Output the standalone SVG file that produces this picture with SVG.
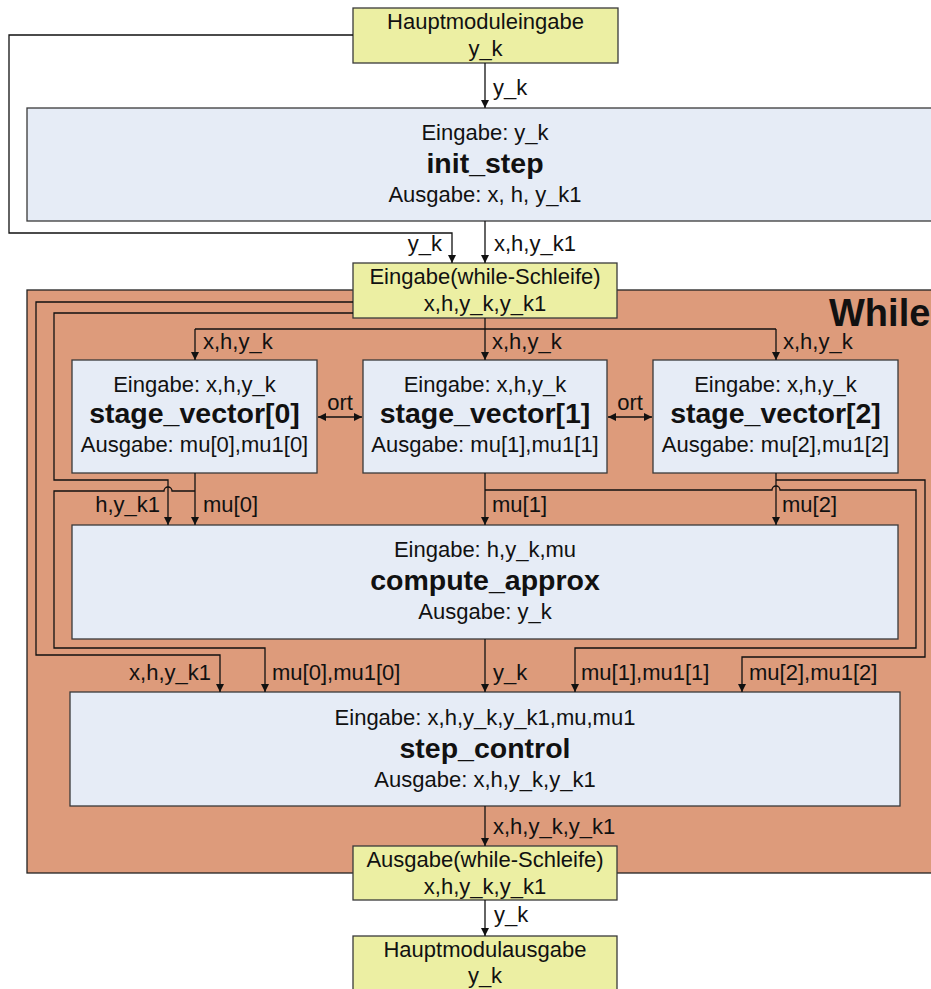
<svg xmlns="http://www.w3.org/2000/svg" width="931" height="989" viewBox="0 0 931 989">
  <style>
    .io { fill: #ECEFA3; stroke: #3A3A3A; stroke-width: 1.3; }
    .blk { fill: #E6ECF6; stroke: #3A3A3A; stroke-width: 1.3; }
    .frame { fill: #DD9B7B; stroke: #222; stroke-width: 1.3; }
    .t { font-family: "Liberation Sans", Arial, sans-serif; font-size: 22px; fill: #111; }
    .c { text-anchor: middle; }
    .e { text-anchor: end; }
    .b { font-weight: bold; font-size: 28.5px; }
    .w { font-weight: bold; font-size: 38px; }
    .ln { fill: none; stroke: #111; stroke-width: 1.3; }
    .lb { font-family: "Liberation Sans", Arial, sans-serif; font-size: 22px; fill: #111; }
  </style>
  <defs>
    <marker id="arr" viewBox="0 0 10 10" refX="10" refY="5" markerWidth="8" markerHeight="9" markerUnits="userSpaceOnUse" orient="auto">
      <path d="M0,0 L10,5 L0,10 z" fill="#111"/>
    </marker>
    <marker id="arrs" viewBox="0 0 10 10" refX="0" refY="5" markerWidth="8" markerHeight="9" markerUnits="userSpaceOnUse" orient="auto">
      <path d="M10,0 L0,5 L10,10 z" fill="#111"/>
    </marker>
  </defs>

  <rect width="931" height="989" fill="#FFFFFF"/>

  <!-- while loop frame -->
  <g id="while">
    <rect class="frame" x="27" y="290" width="920" height="583"/>
    <text class="t w" x="829" y="326">While</text>
  </g>

  <!-- main module input -->
  <g id="haupt_in">
    <rect class="io" x="353" y="8" width="265" height="55"/>
    <text class="t c" x="485.5" y="29">Hauptmoduleingabe</text>
    <text class="t c" x="485.5" y="56">y_k</text>
  </g>

  <g id="init_step">
    <rect class="blk" x="27" y="108" width="916" height="113"/>
    <text class="t c" x="485" y="140">Eingabe: y_k</text>
    <text class="t c b" x="485" y="173">init_step</text>
    <text class="t c" x="485" y="202">Ausgabe: x, h, y_k1</text>
  </g>

  <g id="loop_in">
    <rect class="io" x="353" y="263" width="264" height="55"/>
    <text class="t c" x="485" y="284">Eingabe(while-Schleife)</text>
    <text class="t c" x="485" y="311">x,h,y_k,y_k1</text>
  </g>

  <g id="stage0">
    <rect class="blk" x="72" y="360" width="245" height="113"/>
    <text class="t c" x="194.5" y="392">Eingabe: x,h,y_k</text>
    <text class="t c b" x="194.5" y="423">stage_vector[0]</text>
    <text class="t c" x="194.5" y="452">Ausgabe: mu[0],mu1[0]</text>
  </g>

  <g id="stage1">
    <rect class="blk" x="363" y="360" width="244" height="113"/>
    <text class="t c" x="485" y="392">Eingabe: x,h,y_k</text>
    <text class="t c b" x="485" y="423">stage_vector[1]</text>
    <text class="t c" x="485" y="452">Ausgabe: mu[1],mu1[1]</text>
  </g>

  <g id="stage2">
    <rect class="blk" x="653" y="360" width="245" height="113"/>
    <text class="t c" x="775.5" y="392">Eingabe: x,h,y_k</text>
    <text class="t c b" x="775.5" y="423">stage_vector[2]</text>
    <text class="t c" x="775.5" y="452">Ausgabe: mu[2],mu1[2]</text>
  </g>

  <g id="compute_approx">
    <rect class="blk" x="72" y="525" width="826" height="114"/>
    <text class="t c" x="485" y="557">Eingabe: h,y_k,mu</text>
    <text class="t c b" x="485" y="590">compute_approx</text>
    <text class="t c" x="485" y="619">Ausgabe: y_k</text>
  </g>

  <g id="step_control">
    <rect class="blk" x="70" y="692" width="830" height="114"/>
    <text class="t c" x="485" y="725">Eingabe: x,h,y_k,y_k1,mu,mu1</text>
    <text class="t c b" x="485" y="758">step_control</text>
    <text class="t c" x="485" y="787">Ausgabe: x,h,y_k,y_k1</text>
  </g>

  <g id="loop_out">
    <rect class="io" x="353" y="846" width="264" height="54"/>
    <text class="t c" x="485" y="867">Ausgabe(while-Schleife)</text>
    <text class="t c" x="485" y="894">x,h,y_k,y_k1</text>
  </g>

  <g id="haupt_out">
    <rect class="io" x="353" y="936" width="264" height="60"/>
    <text class="t c" x="485" y="957">Hauptmodulausgabe</text>
    <text class="t c" x="485" y="983">y_k</text>
  </g>

  <!-- connectors -->
  <g id="connectors">
    <path class="ln" d="M485,63 V108" marker-end="url(#arr)"/>
    <path class="ln" d="M353,35 H9 V233 H452 V263" marker-end="url(#arr)"/>
    <path class="ln" d="M485,221 V263" marker-end="url(#arr)"/>

    <path class="ln" d="M485,318 V360" marker-end="url(#arr)"/>
    <path class="ln" d="M195,329 H776"/>
    <path class="ln" d="M195,329 V360" marker-end="url(#arr)"/>
    <path class="ln" d="M776,329 V360" marker-end="url(#arr)"/>

    <path class="ln" d="M353,302 H36 V655 H220 V692" marker-end="url(#arr)"/>
    <path class="ln" d="M353,313 H54 V480 H168 V525" marker-end="url(#arr)"/>

    <path class="ln" d="M195,473 V525" marker-end="url(#arr)"/>
    <path class="ln" d="M195,491 H172 A4,4 0 0 0 164,491 H54 V648 H265 V692" marker-end="url(#arr)"/>

    <path class="ln" d="M485,473 V525" marker-end="url(#arr)"/>
    <path class="ln" d="M485,490 H772 A4,4 0 0 1 780,490 H916 V648 H575 V692" marker-end="url(#arr)"/>

    <path class="ln" d="M776,473 V525" marker-end="url(#arr)"/>
    <path class="ln" d="M776,480 H925 V657 H742 V692" marker-end="url(#arr)"/>

    <path class="ln" d="M485,639 V692" marker-end="url(#arr)"/>
    <path class="ln" d="M485,806 V846" marker-end="url(#arr)"/>
    <path class="ln" d="M485,900 V936" marker-end="url(#arr)"/>

    <path class="ln" d="M318,417 H362" marker-start="url(#arrs)" marker-end="url(#arr)"/>
    <path class="ln" d="M608,417 H652" marker-start="url(#arrs)" marker-end="url(#arr)"/>

    <text class="lb" x="493" y="95">y_k</text>
    <text class="lb e" x="442" y="251">y_k</text>
    <text class="lb" x="494" y="251">x,h,y_k1</text>
    <text class="lb" x="203" y="349">x,h,y_k</text>
    <text class="lb" x="492" y="349">x,h,y_k</text>
    <text class="lb" x="783" y="349">x,h,y_k</text>
    <text class="lb c" x="340" y="410">ort</text>
    <text class="lb c" x="630" y="410">ort</text>
    <text class="lb e" x="160" y="512">h,y_k1</text>
    <text class="lb" x="203" y="512">mu[0]</text>
    <text class="lb" x="492" y="512">mu[1]</text>
    <text class="lb" x="782" y="512">mu[2]</text>
    <text class="lb e" x="211" y="680">x,h,y_k1</text>
    <text class="lb" x="272" y="680">mu[0],mu1[0]</text>
    <text class="lb" x="493" y="680">y_k</text>
    <text class="lb" x="581" y="680">mu[1],mu1[1]</text>
    <text class="lb" x="749" y="680">mu[2],mu1[2]</text>
    <text class="lb" x="493" y="834">x,h,y_k,y_k1</text>
    <text class="lb" x="494" y="922">y_k</text>
  </g>
</svg>
